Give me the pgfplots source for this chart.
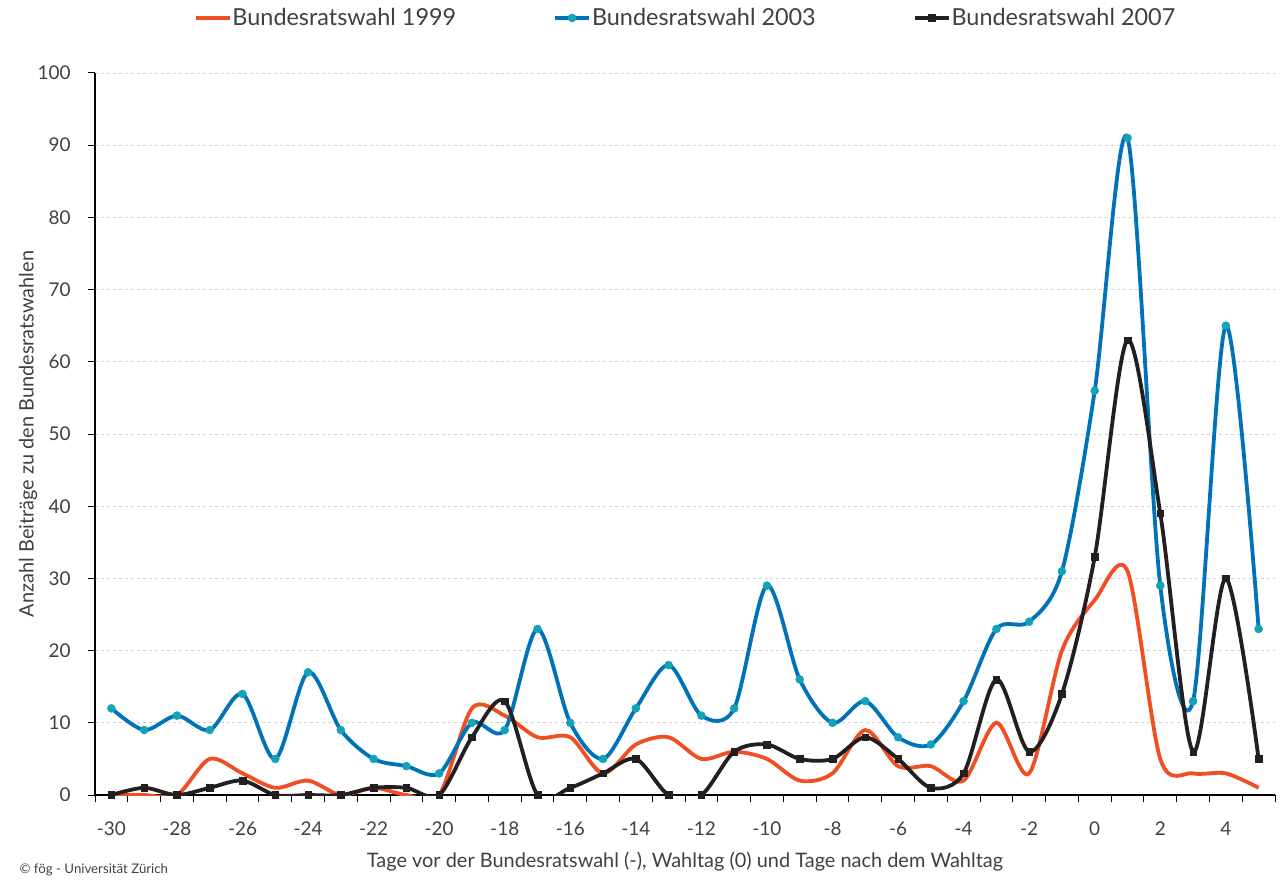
\documentclass[border=0pt]{standalone}
\usepackage{pgfplots}
\pgfplotsset{compat=1.18}
\usepackage{fontspec}
\setmainfont{Lato}
\definecolor{red99}{HTML}{F04E23}
\definecolor{blue03}{HTML}{0072B8}
\definecolor{teal03}{HTML}{12A3B8}
\definecolor{black07}{HTML}{231F20}
\definecolor{txt}{HTML}{404040}
\pgfplotstableread{
x y
-30 0
-29 0
-28 0
-27 5
-26 3
-25 1
-24 2
-23 0
-22 1
-21 0
-20 0
-19 12
-18 11
-17 8
-16 8
-15 3
-14 7
-13 8
-12 5
-11 6
-10 5
-9 2
-8 3
-7 9
-6 4
-5 4
-4 2
-3 10
-2 3
-1 20
0 27
1 31
2 5
3 3
4 3
5 1
}\tabA
\pgfplotstableread{
x y
-30 12
-29 9
-28 11
-27 9
-26 14
-25 5
-24 17
-23 9
-22 5
-21 4
-20 3
-19 10
-18 9
-17 23
-16 10
-15 5
-14 12
-13 18
-12 11
-11 12
-10 29
-9 16
-8 10
-7 13
-6 8
-5 7
-4 13
-3 23
-2 24
-1 31
0 56
1 91
2 29
3 13
4 65
5 23
}\tabB
\pgfplotstableread{
x y
-30 0
-29 1
-28 0
-27 1
-26 2
-25 0
-24 0
-23 0
-22 1
-21 1
-20 0
-19 8
-18 13
-17 0
-16 1
-15 3
-14 5
-13 0
-12 0
-11 6
-10 7
-9 5
-8 5
-7 8
-6 5
-5 1
-4 3
-3 16
-2 6
-1 14
0 33
1 63
2 39
3 6
4 30
5 5
}\tabC
\begin{document}
\begin{tikzpicture}
\begin{axis}[
  name=ax,
  scale only axis,
  width=1180bp, height=722bp,
  xmin=-30.5, xmax=5.5,
  ymin=0, ymax=100,
  axis lines=left,
  axis line style={-, line width=1.8bp, black},
  every axis plot/.append style={smooth, tension=0.5},
  xtick={-30.5,-29.5,...,5.5},
  xticklabels={},
  extra x ticks={-30,-28,...,4},
  extra x tick style={major tick length=0pt, grid=none},
  ytick={0,10,...,100},
  tick align=outside,
  major tick length=7bp,
  tick style={black, line width=1bp},
  ymajorgrids,
  grid style={dashed, gray!35, line width=0.7bp},
  /pgf/number format/assume math mode=true,
  tick label style={font=\fontsize{19}{22}\selectfont, text=txt},
  xticklabel style={yshift=-23bp},
  yticklabel style={xshift=-14bp},
  xlabel={Tage vor der Bundesratswahl (-), Wahltag (0) und Tage nach dem Wahltag},
  ylabel={Anzahl Beiträge zu den Bundesratswahlen},
  xlabel style={at={(axis description cs:0.5,0)}, anchor=center, yshift=-67bp, font=\fontsize{20}{24}\selectfont, text=txt},
  ylabel style={at={(axis description cs:-0.0568,0.5)}, anchor=center, font=\fontsize{20}{24}\selectfont, text=txt},
  legend columns=3,
  legend style={draw=none, fill=none, at={(axis description cs:0.5,1)}, anchor=center, yshift=55bp,
    font=\fontsize{23.5}{27}\selectfont, text=txt,
    /tikz/every even column/.append style={column sep=96bp},
    nodes={inner xsep=1bp}},
  legend image code/.code={\draw[mark repeat=2,mark phase=2] plot coordinates {(0bp,0bp) (17bp,0bp) (34bp,0bp)};},
]
\addplot[red99, line width=3.8bp, no markers] table[x=x,y=y]{\tabA};
\addlegendentry{Bundesratswahl 1999}
\addplot[blue03, line width=3.8bp, mark=*, mark size=4bp, mark options={fill=teal03, draw=teal03, solid, line width=0.5bp}] table[x=x,y=y]{\tabB};
\addlegendentry{Bundesratswahl 2003}
\addplot[black07, line width=3.8bp, mark=square*, mark size=3.3bp, mark options={fill=black07, solid, line width=0.5bp}] table[x=x,y=y]{\tabC};
\addlegendentry{Bundesratswahl 2007}
\end{axis}
\node[anchor=west, font=\fontsize{13.3}{15}\selectfont, text=txt] at ([xshift=-79bp, yshift=-75bp]ax.south west) {© fög - Universität Zürich};
\path ([xshift=-95bp, yshift=-83bp]ax.south west) rectangle ([xshift=6bp, yshift=73bp]ax.north east);
\end{tikzpicture}
\end{document}
